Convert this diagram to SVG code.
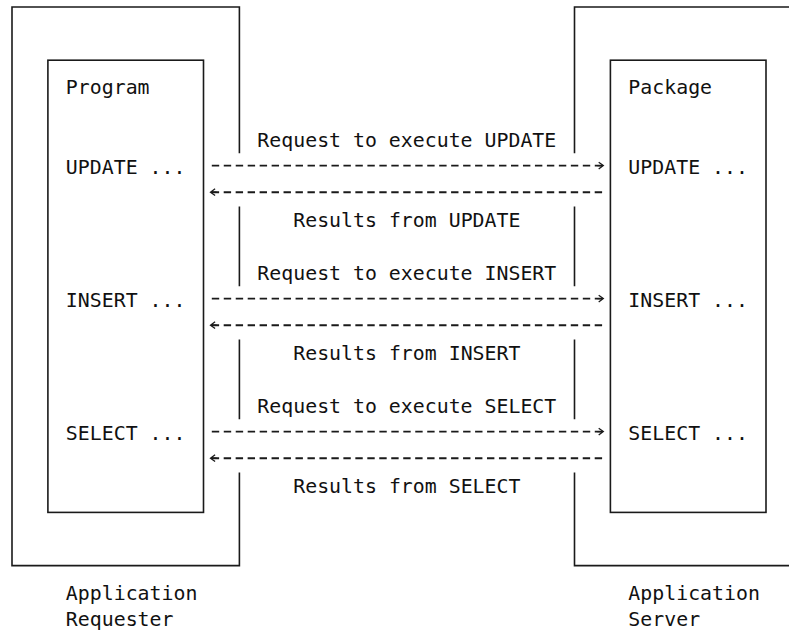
<svg xmlns="http://www.w3.org/2000/svg" width="789" height="634" viewBox="0 0 789 634">
<style>
.box{fill:none;stroke:#1a1a1a;stroke-width:1.6}
.t{font-family:"DejaVu Sans Mono","Liberation Mono",monospace;font-size:19.88px;fill:#111}
.dash{stroke:#1a1a1a;stroke-width:1.9;stroke-dasharray:7.4 4.568;fill:none}
</style>
<defs>
<marker id="ah" markerUnits="userSpaceOnUse" orient="auto" refX="0" refY="0" markerWidth="12" markerHeight="12" viewBox="-8 -6 10 12" overflow="visible">
<path d="M-6,0 L0,0 M-4.6,-3.4 L0,0 L-4.6,3.4" fill="none" stroke="#1a1a1a" stroke-width="1.3"/>
</marker>
</defs>
<rect width="789" height="634" fill="#fff"/>

<g id="requester">
<path class="box" d="M239.4,153.3 V7 H12 V565.6 H239.4 V472.5 M239.4,206.5 V286.3 M239.4,339.5 V419.3"/>
<text class="t" x="65.86" y="599.6">Application</text>
<text class="t" x="65.86" y="626.2">Requester</text>
</g>

<g id="program">
<rect class="box" x="47.9" y="60.2" width="155.6" height="452.2"/>
<text class="t" x="65.86" y="94.2">Program</text>
<text class="t" x="65.86" y="174">UPDATE ...</text>
<text class="t" x="65.86" y="307">INSERT ...</text>
<text class="t" x="65.86" y="440">SELECT ...</text>
</g>

<g id="server">
<path class="box" d="M574.5,153.3 V7 H790 M574.5,206.5 V286.3 M574.5,339.5 V419.3 M574.5,472.5 V565.6 H790"/>
<text class="t" x="628.35" y="599.6">Application</text>
<text class="t" x="628.35" y="626.2">Server</text>
</g>

<g id="package">
<rect class="box" x="610.4" y="60.2" width="155.6" height="452.2"/>
<text class="t" x="628.35" y="94.2">Package</text>
<text class="t" x="628.35" y="174">UPDATE ...</text>
<text class="t" x="628.35" y="307">INSERT ...</text>
<text class="t" x="628.35" y="440">SELECT ...</text>
</g>

<g id="connectors">
<line class="dash" x1="211.8" y1="165.6" x2="603.3" y2="165.6" marker-end="url(#ah)"/>
<line class="dash" x1="602.1" y1="192.2" x2="210.5" y2="192.2" marker-end="url(#ah)"/>
<line class="dash" x1="211.8" y1="298.6" x2="603.3" y2="298.6" marker-end="url(#ah)"/>
<line class="dash" x1="602.1" y1="325.2" x2="210.5" y2="325.2" marker-end="url(#ah)"/>
<line class="dash" x1="211.8" y1="431.6" x2="603.3" y2="431.6" marker-end="url(#ah)"/>
<line class="dash" x1="602.1" y1="458.2" x2="210.5" y2="458.2" marker-end="url(#ah)"/>
<text class="t" x="257.35" y="147.4">Request to execute UPDATE</text>
<text class="t" x="293.25" y="227.2">Results from UPDATE</text>
<text class="t" x="257.35" y="280.4">Request to execute INSERT</text>
<text class="t" x="293.25" y="360.2">Results from INSERT</text>
<text class="t" x="257.35" y="413.4">Request to execute SELECT</text>
<text class="t" x="293.25" y="493.2">Results from SELECT</text>
</g>
</svg>
